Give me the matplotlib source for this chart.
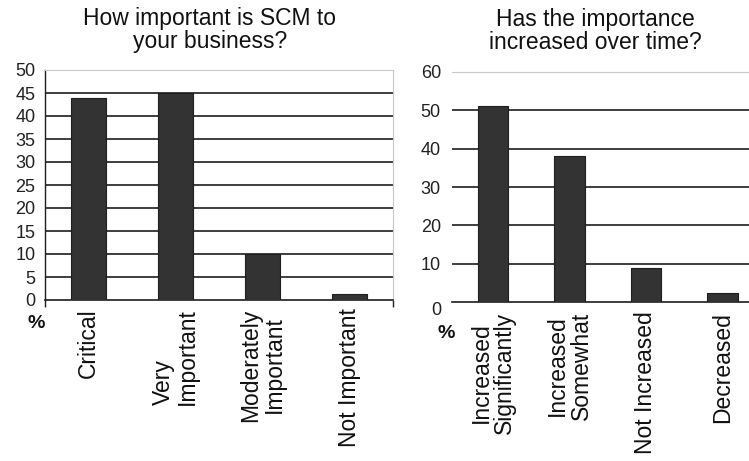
import matplotlib
matplotlib.use("Agg")
import matplotlib.pyplot as plt
import numpy as np

plt.rcParams['font.family'] = ['Liberation Sans', 'DejaVu Sans']

# Data
left_title = "How important is SCM to\nyour business?"
left_cats = ["Critical", "Very\nImportant", "Moderately\nImportant", "Not Important"]
left_vals = [44, 45, 10, 1.2]
left_ticks = [0, 5, 10, 15, 20, 25, 30, 35, 40, 45, 50]

right_title = "Has the importance\nincreased over time?"
right_cats = ["Increased\nSignificantly", "Increased\nSomewhat", "Not Increased", "Decreased"]
right_vals = [51, 38, 9, 2.4]
right_ticks = [0, 10, 20, 30, 40, 50, 60]

W, H = 749, 461
fig = plt.figure(figsize=(W / 100, H / 100), dpi=100)
fig.patch.set_facecolor('white')

def fx(px):
    return px / W

def fy(py):
    return 1 - py / H

BAR = '#333333'
EDGE = '#1e1e1e'
GRID = '#1e1e1e'
LIGHT = '#c8c8c8'
TXT = '#111111'

# ---------------- Left chart ----------------
axL = fig.add_axes([fx(45), fy(300), fx(393 - 45), (300 - 70) / H])
xL = np.arange(len(left_cats))
axL.bar(xL, left_vals, width=0.4, color=BAR, edgecolor=EDGE, linewidth=0.8, zorder=3)
axL.set_xlim(-0.5, 3.5)
axL.set_ylim(0, 50)
axL.set_yticks(left_ticks)
for v in left_ticks[1:-1]:
    axL.axhline(v, color=GRID, linewidth=1.2, zorder=1)
axL.spines['top'].set_color(LIGHT)
axL.spines['right'].set_color(LIGHT)
axL.spines['left'].set_color(GRID)
axL.spines['bottom'].set_color(GRID)
axL.spines['bottom'].set_linewidth(1.2)
axL.spines['left'].set_linewidth(1.0)
axL.tick_params(axis='y', length=0, pad=7, labelsize=13, labelcolor='#222222')
axL.set_xticks(xL)
axL.set_xticklabels(left_cats, rotation=90, fontsize=16.5, color=TXT,
                    va='top', ha='center', multialignment='center', linespacing=1.05)
axL.tick_params(axis='x', length=0, pad=6)
axL.set_xticks([-0.5, 3.5], minor=True)
axL.tick_params(axis='x', which='minor', length=5, direction='out', color=GRID, width=1)
axL.get_xticklabels()[1].set_multialignment('left')
fig.text(fx(36), fy(323), "%", fontsize=14, fontweight='bold', ha='center', va='center',
         color=TXT)
fig.text(fx(210), fy(7), left_title, fontsize=16.5, ha='center', va='top',
         color=TXT, linespacing=0.98)

# ---------------- Right chart ----------------
axR = fig.add_axes([fx(452), fy(302), 308.7 / W, (302 - 72) / H])
xR = np.arange(len(right_cats))
axR.bar(xR, right_vals, width=0.4, color=BAR, edgecolor=EDGE, linewidth=0.8, zorder=3)
axR.set_xlim(-0.535, 3.5)
axR.set_ylim(0, 60)
axR.set_yticks(right_ticks)
for v in right_ticks[1:-1]:
    axR.axhline(v, color=GRID, linewidth=1.2, zorder=1)
axR.spines['top'].set_color(LIGHT)
axR.spines['right'].set_visible(False)
axR.spines['left'].set_visible(False)
axR.spines['bottom'].set_color(GRID)
axR.spines['bottom'].set_linewidth(1.2)
axR.tick_params(axis='y', length=0, pad=8, labelsize=13, labelcolor='#222222')
axR.set_xticks(xR)
axR.set_xticklabels(right_cats, rotation=90, fontsize=16.5, color=TXT,
                    va='top', ha='center', multialignment='center', linespacing=1.05)
axR.tick_params(axis='x', length=0, pad=7)
axR.get_yticklabels()[0].set_verticalalignment('top')
fig.text(fx(446), fy(333), "%", fontsize=14, fontweight='bold', ha='center', va='center',
         color=TXT)
fig.text(fx(595), fy(8), right_title, fontsize=16.5, ha='center', va='top',
         color=TXT, linespacing=0.98)

fig.savefig("out.png", dpi=100, facecolor='white')
